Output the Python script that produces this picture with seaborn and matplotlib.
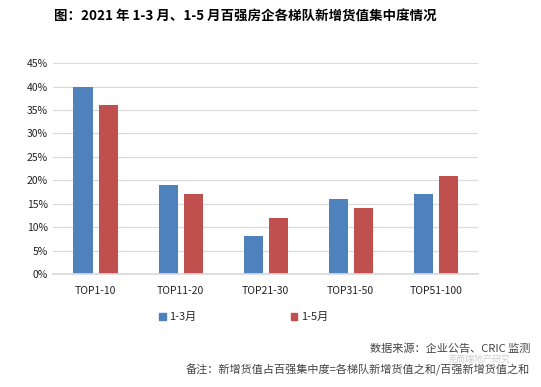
import matplotlib
matplotlib.use("Agg")
import matplotlib.pyplot as plt
import pandas as pd
import seaborn as sns
from matplotlib.ticker import PercentFormatter

tiers = ["TOP1-10", "TOP11-20", "TOP21-30", "TOP31-50", "TOP51-100"]
periods = ["1-3月", "1-5月"]
share_q1 = [40, 19, 8, 16, 17]
share_may = [36, 17, 12, 14, 21]
y_ticks = [0, 5, 10, 15, 20, 25, 30, 35, 40, 45]

frame = pd.DataFrame({
    "tier": tiers * 2,
    "period": [periods[0]] * len(tiers) + [periods[1]] * len(tiers),
    "share": share_q1 + share_may,
})

sns.set_theme(style="white")
plt.rcParams["font.family"] = ["Noto Sans CJK SC", "DejaVu Sans"]

fig = plt.figure(figsize=(5.41, 3.87), dpi=100)
ax = fig.add_axes([0.098, 0.292, 0.786, 0.545])

sns.barplot(
    data=frame, x="tier", y="share", hue="period",
    order=tiers, hue_order=periods,
    palette=["#4F81BD", "#C0504D"],
    width=0.59, gap=0.24, saturation=1, linewidth=0,
    ax=ax, legend=False,
)

ax.set_ylim(0, 45)
ax.set_yticks(y_ticks)
ax.yaxis.set_major_formatter(PercentFormatter(decimals=0))
ax.grid(axis="y", color="#D9D9D9", linewidth=0.8)
ax.set_axisbelow(True)
for side in ["left", "right", "top"]:
    ax.spines[side].set_visible(False)
ax.spines["bottom"].set_color("#D9D9D9")
ax.tick_params(axis="both", length=0, labelsize=7.5, colors="#222222")
ax.tick_params(axis="x", pad=9)
ax.set_xlabel("")
ax.set_ylabel("")

handles = [plt.Rectangle((0, 0), 1, 1, color=c) for c in ["#4F81BD", "#C0504D"]]
fig.legend(handles, periods, loc="center", bbox_to_anchor=(0.45, 0.18), ncol=2,
           frameon=False, fontsize=8, handlelength=0.6, handleheight=0.6,
           handletextpad=0.3, columnspacing=8.5)

fig.text(0.453, 0.958, "图：2021 年 1-3 月、1-5 月百强房企各梯队新增货值集中度情况",
         ha="center", va="center", fontsize=9.7, fontweight="bold", color="black")
fig.text(0.98, 0.098, "数据来源：企业公告、CRIC 监测", ha="right", va="center",
         fontsize=8, color="#444444")
fig.text(0.98, 0.043, "备注：新增货值占百强集中度=各梯队新增货值之和/百强新增货值之和",
         ha="right", va="center", fontsize=8, color="#444444")
fig.text(0.885, 0.071, "克而瑞地产研究", ha="center", va="center",
         fontsize=6.5, color="#BBBBBB", alpha=0.7)

fig.savefig("out.png", dpi=100)
